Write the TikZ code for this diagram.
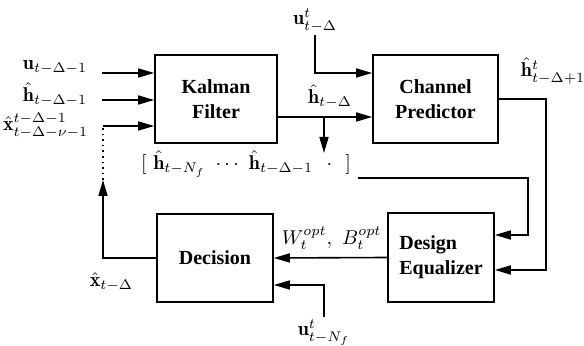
\documentclass[tikz,border=0pt]{standalone}
\usepackage{fontspec}
\newfontfamily\boxfont{Liberation Serif}
\usetikzlibrary{arrows.meta}

\begin{document}
\begin{tikzpicture}[x=0.5pt, y=-0.5pt, line width=0.8pt,
    >={Triangle[length=8pt,width=4.5pt]},
    block/.style={draw, align=center, font=\boxfont\bfseries\fontsize{10}{12.5}\selectfont},
    lbl/.style={inner sep=1pt}]
    \useasboundingbox (0,0) rectangle (584,346);

    % Blocks
    \node[block, minimum width=61pt, minimum height=44pt] (kalman) at (216,99) {Kalman\\Filter};
    \node[block, minimum width=62.5pt, minimum height=44pt] (pred) at (435.5,99) {Channel\\Predictor};
    \node[block, minimum width=58pt, minimum height=44pt] (dec) at (215,258) {Decision};
    \node[block, align=left, minimum width=53pt, minimum height=44.5pt] (eq) at (441,257.5) {Design\\Equalizer};

    % Labels
    \node[lbl, anchor=base east] (lu) at (90,70) {$\mathbf{u}_{t-\Delta-1}$};
    \node[lbl, anchor=base east] (lh) at (90,102) {$\hat{\mathbf{h}}_{t-\Delta-1}$};
    \node[lbl, anchor=base east] (lx) at (91,131) {$\hat{\mathbf{x}}^{t-\Delta-1}_{t-\Delta-\nu-1}$};
    \node[lbl, anchor=base] (ut) at (315,25) {$\mathbf{u}^{t}_{t-\Delta}$};
    \node[lbl, anchor=base] (lhd) at (330,104) {$\hat{\mathbf{h}}_{t-\Delta}$};
    \node[lbl, anchor=base] (lhp) at (553,77) {$\hat{\mathbf{h}}^{t}_{t-\Delta+1}$};
    \node[anchor=base] (hist) at (246,170) {$[\ \hat{\mathbf{h}}_{t-N_f}\ \cdots\ \hat{\mathbf{h}}_{t-\Delta-1}\ \ \cdot\ \ ]$};
    \node[lbl, anchor=base west] (lw) at (279,245) {$W^{opt}_t,\ B^{opt}_t$};
    \node[lbl, anchor=base west] (un) at (295,336) {$\mathbf{u}^{t}_{t-N_f}$};
    \node[lbl, anchor=base west] (lxd) at (87,287) {$\hat{\mathbf{x}}_{t-\Delta}$};

    % Inputs to the filter
    \coordinate (in1) at (102,73);
    \coordinate (in2) at (102,100);
    \coordinate (in3) at (103,126);
    \draw[->] (in1) -- (in1 -| kalman.west);
    \draw[->] (in2) -- (in2 -| kalman.west);
    \draw[->] (in3) -- (in3 -| kalman.west);

    % Feedback of decisions
    \coordinate (fb) at (103,180);
    \draw[->] (dec.west) -| (fb);
    \draw[dotted] (fb) -- (in3);

    % Filter output
    \coordinate (br) at (324,117);
    \coordinate (tip) at (324,153);
    \draw[->] (kalman.east |- br) -- (pred.west |- br);
    \draw[->] (br) -- (tip);

    % Predictor input and output
    \coordinate (c1) at (316,73);
    \draw[->] (ut.south) |- (pred.west |- c1);
    \coordinate (c2) at (546,270);
    \draw[->] (pred.east) -| (c2) -- (eq.east |- c2);

    % Past estimates to the equalizer
    \coordinate (c3) at (528,178);
    \coordinate (c4) at (528,235);
    \draw[->] (hist.east |- c3) -- (c3) -- (c4) -- (eq.east |- c4);

    % Equalizer to decision
    \draw[->] (eq.west) -- (dec.east);
    \coordinate (c5) at (317,285);
    \draw[->] (un.north) |- (dec.east |- c5);
\end{tikzpicture}
\end{document}
